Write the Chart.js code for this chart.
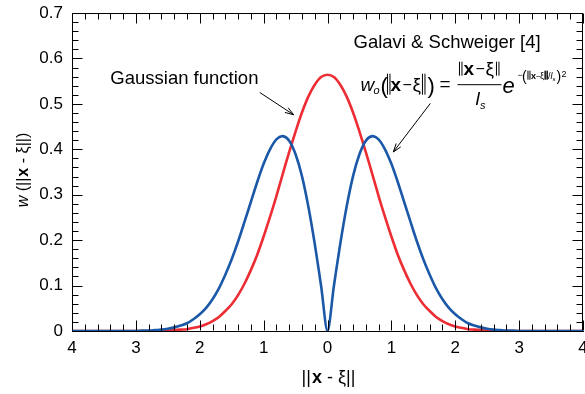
<!DOCTYPE html>
<html>
<head>
<meta charset="utf-8">
<script src="https://cdn.jsdelivr.net/npm/chart.js@4.4.1/dist/chart.umd.min.js"></script>
<style>
  html, body { margin: 0; padding: 0; background: #fff; overflow: hidden; }
  #wrap { width: 600px; height: 394px; }
</style>
</head>
<body>
<div id="wrap"><canvas id="chart" width="600" height="394"></canvas></div>
<script>
// distance values (signed, tick labels show |x|)
const xValues = [
  -4.0, -3.9, -3.8, -3.7, -3.6, -3.5, -3.4, -3.3, -3.2, -3.1,
  -3.0, -2.9, -2.8, -2.7, -2.6, -2.5, -2.4, -2.3, -2.2, -2.1,
  -2.0, -1.9, -1.8, -1.7, -1.6, -1.5, -1.4, -1.3, -1.2, -1.1,
  -1.0, -0.9, -0.8, -0.7, -0.6, -0.5, -0.4, -0.3, -0.2, -0.1,
  0,
  0.1, 0.2, 0.3, 0.4, 0.5, 0.6, 0.7, 0.8, 0.9, 1.0,
  1.1, 1.2, 1.3, 1.4, 1.5, 1.6, 1.7, 1.8, 1.9, 2.0,
  2.1, 2.2, 2.3, 2.4, 2.5, 2.6, 2.7, 2.8, 2.9, 3.0,
  3.1, 3.2, 3.3, 3.4, 3.5, 3.6, 3.7, 3.8, 3.9, 4.0
];

// Gaussian function (red)
const gaussian = [
  0, 0, 0, 0, 0, 0, 0, 0, 0, 0,
  0, 0, 0, 0, 0.001, 0.001, 0.002, 0.003, 0.004, 0.007,
  0.010, 0.015, 0.022, 0.031, 0.044, 0.059, 0.079, 0.104, 0.134, 0.168,
  0.208, 0.251, 0.297, 0.346, 0.394, 0.439, 0.481, 0.516, 0.542, 0.559,
  0.564,
  0.559, 0.542, 0.516, 0.481, 0.439, 0.394, 0.346, 0.297, 0.251, 0.208,
  0.168, 0.134, 0.104, 0.079, 0.059, 0.044, 0.031, 0.022, 0.015, 0.010,
  0.007, 0.004, 0.003, 0.002, 0.001, 0.001, 0, 0, 0, 0,
  0, 0, 0, 0, 0, 0, 0, 0, 0, 0
];

// Galavi & Schweiger weight (blue)
const galavi = [
  0, 0, 0, 0, 0, 0, 0, 0, 0, 0,
  0, 0.001, 0.001, 0.002, 0.003, 0.005, 0.008, 0.012, 0.017, 0.026,
  0.037, 0.051, 0.070, 0.094, 0.124, 0.158, 0.197, 0.240, 0.284, 0.328,
  0.368, 0.400, 0.422, 0.429, 0.419, 0.389, 0.341, 0.274, 0.192, 0.099,
  0,
  0.099, 0.192, 0.274, 0.341, 0.389, 0.419, 0.429, 0.422, 0.400, 0.368,
  0.328, 0.284, 0.240, 0.197, 0.158, 0.124, 0.094, 0.070, 0.051, 0.037,
  0.026, 0.017, 0.012, 0.008, 0.005, 0.003, 0.002, 0.001, 0.001, 0,
  0, 0, 0, 0, 0, 0, 0, 0, 0, 0
];

// tick positions of the box frame (major every 1 / 0.1)
const xFrameTicks = [-4, -3.8, -3.6, -3.4, -3.2, -3, -2.8, -2.6, -2.4, -2.2, -2, -1.8, -1.6, -1.4, -1.2,
  -1, -0.8, -0.6, -0.4, -0.2, 0, 0.2, 0.4, 0.6, 0.8, 1, 1.2, 1.4, 1.6, 1.8, 2, 2.2, 2.4, 2.6, 2.8,
  3, 3.2, 3.4, 3.6, 3.8, 4];
const yFrameTicks = [0, 0.02, 0.04, 0.06, 0.08, 0.1, 0.12, 0.14, 0.16, 0.18, 0.2, 0.22, 0.24, 0.26,
  0.28, 0.3, 0.32, 0.34, 0.36, 0.38, 0.4, 0.42, 0.44, 0.46, 0.48, 0.5, 0.52, 0.54, 0.56, 0.58, 0.6,
  0.62, 0.64, 0.66, 0.68, 0.7];

const FONT = '"Liberation Sans", Arial, sans-serif';
const RED = '#ec2d33';
const BLUE = '#1b59a8';

function toPoints(ys) {
  return xValues.map((x, i) => ({ x: x, y: ys[i] }));
}

function runText(ctx, x, y, parts, measureOnly) {
  for (const p of parts) {
    x += p.g || 0;
    ctx.font = p.f;
    if (!measureOnly) ctx.fillText(p.t, x, y + (p.dy || 0));
    x += ctx.measureText(p.t).width;
  }
  return x;
}

// pieces at fixed offsets from an anchor; bar pieces are norm signs
function placeText(ctx, x0, y0, parts) {
  for (const p of parts) {
    if (p.bar) {
      ctx.fillRect(x0 + p.dx, y0 + p.dy - p.h, p.lw || 1, p.h);
      ctx.fillRect(x0 + p.dx + p.sp, y0 + p.dy - p.h, p.lw || 1, p.h);
      continue;
    }
    ctx.font = p.f;
    ctx.fillText(p.t, x0 + p.dx, y0 + (p.dy || 0));
  }
}

function arrow(ctx, x1, y1, x2, y2) {
  const a = Math.atan2(y2 - y1, x2 - x1);
  const h = 9, w = 0.32;
  ctx.beginPath();
  ctx.moveTo(x1, y1);
  ctx.lineTo(x2, y2);
  ctx.moveTo(x2 - h * Math.cos(a - w), y2 - h * Math.sin(a - w));
  ctx.lineTo(x2, y2);
  ctx.lineTo(x2 - h * Math.cos(a + w), y2 - h * Math.sin(a + w));
  ctx.stroke();
}

// a straight segment, same path mechanism as the arrows
function seg(ctx, x1, y1, x2, y2) {
  ctx.beginPath();
  ctx.moveTo(x1, y1);
  ctx.lineTo(x2, y2);
  ctx.stroke();
}

const annotations = {
  id: 'annotations',
  afterDraw(chart) {
    const { ctx, scales } = chart;
    const sx = scales.x, sy = scales.y;
    const px = v => sx.getPixelForValue(v);
    const py = v => sy.getPixelForValue(v);
    ctx.save();
    ctx.fillStyle = '#000';
    ctx.strokeStyle = '#000';
    ctx.lineWidth = 1;
    ctx.textBaseline = 'alphabetic';
    ctx.textAlign = 'left';

    // axis titles
    const xt = [
      { t: '||', f: '18px ' + FONT },
      { t: 'x', f: 'bold 18px ' + FONT, g: 1 },
      { t: ' - ', f: '18px ' + FONT },
      { t: '\u03be||', f: '18px ' + FONT }
    ];
    let wdt = runText(ctx, 0, 0, xt, true);
    runText(ctx, px(0) + 1 - wdt / 2, 383, xt);

    const yt = [
      { t: 'w', f: 'italic 16px ' + FONT },
      { t: ' (||', f: '16px ' + FONT },
      { t: 'x', f: 'bold 16px ' + FONT, g: 1 },
      { t: ' - ', f: '16px ' + FONT },
      { t: '\u03be||)', f: '16px ' + FONT }
    ];
    wdt = runText(ctx, 0, 0, yt, true);
    ctx.save();
    ctx.translate(28, 170);
    ctx.rotate(-Math.PI / 2);
    runText(ctx, -wdt / 2, 0, yt);
    ctx.restore();

    // labels
    ctx.font = '18.5px ' + FONT;
    ctx.fillText('Gaussian function', px(-3.40), py(0.543));
    ctx.fillText('Galavi & Schweiger [4]', px(0.407), py(0.622));
    arrow(ctx, px(-1.06), py(0.525), px(-0.53), py(0.476));
    arrow(ctx, px(1.61), py(0.501), px(1.03), py(0.394));

    // formula, offsets from the left of "w" on its baseline
    const fx = px(0.516), fb = py(0.529);
    const F = FONT;
    placeText(ctx, fx, fb, [
      { t: 'w', f: 'italic 19px ' + F, dx: 0 },
      { t: 'o', f: 'italic 11px ' + F, dx: 13, dy: 3 },
      { t: '(', f: '22px ' + F, dx: 20, dy: 2 },
      { bar: true, dx: 26.5, dy: 4, h: 21, sp: 2.5 },
      { t: 'x', f: 'bold 19px ' + F, dx: 30 },
      { t: '\u2212', f: '16px ' + F, dx: 42, dy: -1 },
      { t: '\u03be', f: '19px ' + F, dx: 52 },
      { bar: true, dx: 61.5, dy: 4, h: 21, sp: 2.5 },
      { t: ')', f: '22px ' + F, dx: 67, dy: 2 },
      { t: '=', f: '19px ' + F, dx: 79, dy: -1 },
      // numerator
      { bar: true, dx: 98.5, dy: -15, h: 14, sp: 2.5 },
      { t: 'x', f: 'bold 19px ' + F, dx: 103, dy: -16 },
      { t: '\u2212', f: '16px ' + F, dx: 115, dy: -17 },
      { t: '\u03be', f: '19px ' + F, dx: 125, dy: -16 },
      { bar: true, dx: 135.5, dy: -15, h: 14, sp: 2.5 },
      // denominator
      { t: 'l', f: 'italic 19px ' + F, dx: 115, dy: 14 },
      { t: 's', f: 'italic 11px ' + F, dx: 119.5, dy: 18 },
      // exponential
      { t: 'e', f: 'italic 22px ' + F, dx: 142, dy: 2 },
      { t: '\u2212', f: '9px ' + F, dx: 157, dy: -13 },
      { t: '(', f: '14px ' + F, dx: 161.5, dy: -10 },
      { bar: true, dx: 167, dy: -11, h: 9, sp: 2 },
      { t: 'x', f: 'bold 9px ' + F, dx: 170.5, dy: -12 },
      { t: '\u2212', f: '8px ' + F, dx: 175.5, dy: -12 },
      { t: '\u03be', f: '9px ' + F, dx: 179.5, dy: -12 },
      { bar: true, dx: 184, dy: -11, h: 9, sp: 2, lw: 1.4 },
      { t: '/', f: '9px ' + F, dx: 187.5, dy: -12 },
      { t: 'l', f: 'italic 9px ' + F, dx: 190, dy: -12 },
      { t: 's', f: 'italic 6px ' + F, dx: 192, dy: -10 },
      { t: ')', f: '14px ' + F, dx: 196, dy: -10 },
      { t: '2', f: '9px ' + F, dx: 201, dy: -14 }
    ]);
    // fraction bar
    ctx.fillRect(fx + 97, fb - 6.5, 44, 1);

    // box frame: top and right edges, then inward ticks on all four sides
    const L = Math.round(px(-4)) + 0.5, R = Math.round(px(4)) - 0.5;
    const T = Math.round(py(0.7)) + 0.5, B = Math.round(py(0)) - 0.5;
    seg(ctx, L, T, R, T);
    seg(ctx, R, T, R, B);
    xFrameTicks.forEach((v, i) => {
      const x = Math.round(px(v)) + 0.5;
      const len = i % 5 === 0 ? 10 : 6;
      seg(ctx, x, B, x, B - len);
      seg(ctx, x, T, x, T + len);
    });
    yFrameTicks.forEach((v, j) => {
      const y = Math.round(py(v)) + 0.5;
      const len = j % 5 === 0 ? 10 : 6;
      seg(ctx, L, y, L + len, y);
      seg(ctx, R, y, R - len, y);
    });
    ctx.restore();
  }
};

new Chart(document.getElementById('chart'), {
  type: 'line',
  data: {
    datasets: [
      {
        label: 'Galavi & Schweiger',
        data: toPoints(galavi),
        borderColor: BLUE,
        borderWidth: 2.6,
        pointRadius: 0,
        tension: 0.3,
        fill: false
      },
      {
        label: 'Gaussian function',
        data: toPoints(gaussian),
        borderColor: RED,
        borderWidth: 2.6,
        pointRadius: 0,
        tension: 0.3,
        fill: false
      }
    ]
  },
  options: {
    responsive: false,
    animation: false,
    layout: { padding: { top: 13, right: 17, left: 0, bottom: 0 } },
    plugins: {
      legend: { display: false },
      tooltip: { enabled: false }
    },
    scales: {
      x: {
        type: 'linear',
        min: -4,
        max: 4,
        grid: { display: false, drawTicks: false },
        border: { display: true, color: '#000', width: 1 },
        ticks: {
          stepSize: 1,
          autoSkip: false,
          maxRotation: 0,
          padding: 7,
          color: '#000',
          font: { family: FONT, size: 17 },
          callback: v => String(Math.abs(v))
        },
        afterFit: s => { s.height = 63; s.paddingLeft = 0; s.paddingRight = 0; }
      },
      y: {
        min: 0,
        max: 0.7,
        grid: { display: false, drawTicks: false },
        border: { display: true, color: '#000', width: 1 },
        ticks: {
          stepSize: 0.1,
          padding: 9,
          color: '#000',
          font: { family: FONT, size: 17 },
          callback: v => v === 0 ? '0' : v.toFixed(1)
        },
        afterFit: s => { s.width = 72; s.paddingTop = 0; s.paddingBottom = 0; }
      }
    }
  },
  plugins: [annotations]
});
</script>
</body>
</html>
